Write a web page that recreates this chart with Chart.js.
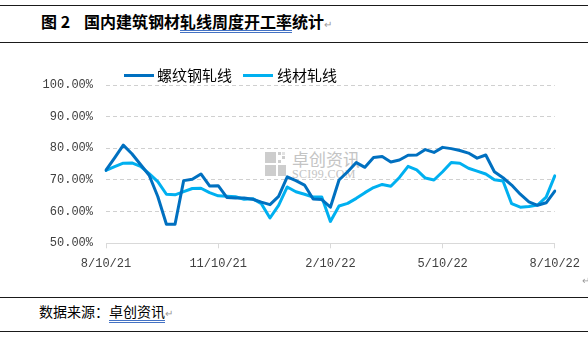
<!DOCTYPE html>
<html>
<head>
<meta charset="utf-8">
<script src="https://cdn.jsdelivr.net/npm/chart.js@4.4.1/dist/chart.umd.min.js"></script>
<style>
  html, body { margin: 0; padding: 0; background: #fff; }
  body { width: 588px; height: 337px; position: relative; overflow: hidden; font-family: "Noto Sans CJK SC", sans-serif; }
  .rule { position: absolute; left: 0; width: 588px; height: 1px; background: #1a1a1a; }
  .title { position: absolute; left: 41px; top: 10px; font-size: 16px; font-weight: 700; color: #000; line-height: 22px; white-space: nowrap; }
  .title .num { display: inline-block; width: 43px; }
  .ul { border-bottom: 3px double #4472c4; line-height: 18px; display: inline-block; }
  .para { color: #9a9a9a; font-size: 10px; font-weight: 400; }
  .legend { position: absolute; top: 66px; font-size: 15px; color: #000; line-height: 18px; white-space: nowrap; }
  .legend i { position: absolute; top: 7.5px; height: 3px; width: 30px; }
  .legend span { position: absolute; top: 0; }
  .watermark { position: absolute; left: 265px; top: 152px; }
  .watermark b { position: absolute; background: #cdcdcd; }
  .watermark .wm-cn { position: absolute; left: 27px; top: -3px; font-size: 17px; color: #c4c4c4; white-space: nowrap; line-height: 20px; }
  .watermark .wm-en { position: absolute; left: 27px; top: 15px; font-family: "Liberation Serif", serif; font-size: 12px; color: #c4c4c4; white-space: nowrap; letter-spacing: 0.3px; }
  #wrap { position: absolute; left: 0; top: 60px; width: 588px; height: 225px; }
  .footer { position: absolute; left: 39px; top: 301px; font-size: 14px; color: #000; line-height: 20px; white-space: nowrap; }
</style>
</head>
<body>
<div class="rule" style="top:5px"></div>
<div class="title"><span class="num">图 2</span>国内建筑钢材<span class="ul">轧线周度开工率</span>统计<span class="para">↵</span></div>
<div class="rule" style="top:42px"></div>

<div class="watermark">
  <b style="left:0;top:0;width:11px;height:11px"></b>
  <b style="left:13px;top:0;width:3px;height:3px"></b>
  <b style="left:17px;top:4px;width:3px;height:3px"></b>
  <b style="left:13px;top:8px;width:3px;height:3px"></b>
  <b style="left:17px;top:0;width:3px;height:3px;background:#e2e2e2"></b>
  <b style="left:0;top:13px;width:11px;height:11px"></b>
  <b style="left:13px;top:13px;width:8px;height:11px"></b>
  <span class="wm-cn">卓创资讯</span>
  <span class="wm-en">SCI99.COM</span>
</div>

<div id="wrap"><canvas id="rateChart"></canvas></div>

<div class="legend" style="left:124px"><i style="left:0;background:#0070c0"></i><span style="left:33px">螺纹钢轧线</span></div>
<div class="legend" style="left:243px"><i style="left:0;background:#00b0f0"></i><span style="left:34px">线材轧线</span></div>

<div class="para" style="position:absolute;left:582px;top:272px">↵</div>

<div class="rule" style="top:297px"></div>
<div class="footer">数据来源：<span class="ul" style="line-height:17px">卓创资讯</span><span class="para">↵</span></div>
<div class="rule" style="top:331px"></div>

<script>
// weekly sampling dates, Aug 2021 - Aug 2022
const weeks = [
  '8/10/21', '8/17/21', '8/24/21', '8/31/21', '9/7/21', '9/14/21', '9/21/21', '9/28/21',
  '10/5/21', '10/12/21', '10/19/21', '10/26/21', '11/2/21', '11/9/21', '11/16/21', '11/23/21',
  '11/30/21', '12/7/21', '12/14/21', '12/21/21', '12/28/21', '1/4/22', '1/11/22', '1/18/22',
  '1/25/22', '2/1/22', '2/8/22', '2/15/22', '2/22/22', '3/1/22', '3/8/22', '3/15/22',
  '3/22/22', '3/29/22', '4/5/22', '4/12/22', '4/19/22', '4/26/22', '5/3/22', '5/10/22',
  '5/17/22', '5/24/22', '5/31/22', '6/7/22', '6/14/22', '6/21/22', '6/28/22', '7/5/22',
  '7/12/22', '7/19/22', '7/26/22', '8/2/22', '8/9/22'
];

// 螺纹钢轧线 operating rate, %
const rebarRate = [
  73.1, 77.0, 81.0, 78.3, 74.9, 71.5, 64.8, 56.0, 56.0, 69.8,
  70.2, 71.9, 68.1, 68.2, 64.5, 64.3, 64.3, 63.9, 63.0, 62.2,
  64.8, 71.0, 69.8, 68.4, 64.0, 63.8, 61.4, 70.0, 72.6, 75.5,
  74.0, 77.1, 77.4, 75.7, 76.3, 77.8, 77.9, 79.6, 78.7, 80.3,
  79.9, 79.3, 78.5, 76.9, 77.9, 72.6, 70.7, 68.4, 65.5, 63.1,
  62.0, 62.8, 66.5
];

// 线材轧线 operating rate, %
const wireRate = [
  73.0, 74.2, 75.3, 75.4, 74.3, 72.0, 69.5, 65.5, 65.3, 66.3,
  67.3, 67.4, 66.0, 65.0, 64.9, 64.7, 63.9, 64.1, 62.5, 58.0,
  62.0, 67.8, 66.3, 65.5, 64.6, 64.6, 56.9, 61.8, 62.6, 64.2,
  66.0, 67.6, 68.6, 68.0, 70.8, 74.3, 73.2, 70.6, 70.0, 72.6,
  75.5, 75.3, 73.7, 72.8, 71.9, 70.1, 69.7, 62.5, 61.4, 61.6,
  62.1, 64.6, 71.3
];

// quarterly axis labels and the week they sit on
const tickLabels = ['8/10/21', '11/10/21', '2/10/22', '5/10/22', '8/10/22'];
const tickWeeks = [0, 13, 26, 39, 52];

const tickFont = { family: "'Liberation Mono', monospace", size: 12 };

new Chart(document.getElementById('rateChart'), {
  type: 'line',
  data: {
    labels: weeks,
    datasets: [
      { label: '螺纹钢轧线', data: rebarRate, borderColor: '#0070c0', borderWidth: 3 },
      { label: '线材轧线', data: wireRate, borderColor: '#00b0f0', borderWidth: 3 }
    ]
  },
  options: {
    responsive: true,
    maintainAspectRatio: false,
    animation: false,
    layout: { padding: { left: 0, right: 32, top: 25, bottom: 0 } },
    elements: {
      point: { radius: 0 },
      line: { tension: 0, borderJoinStyle: 'round', borderCapStyle: 'round' }
    },
    plugins: {
      legend: { display: false },
      tooltip: { enabled: false }
    },
    scales: {
      x: {
        ticks: {
          autoSkip: false,
          maxRotation: 0,
          padding: 8,
          color: '#404040',
          font: tickFont,
          callback: (v) => tickLabels[tickWeeks.indexOf(v)]
        },
        afterBuildTicks: (scale) => {
          scale.ticks = scale.ticks.filter(t => tickWeeks.includes(t.value));
        },
        afterFit: (scale) => { scale.height = 41.7; },
        grid: { drawOnChartArea: false, drawTicks: true, tickLength: 5, color: '#d9d9d9' },
        border: { display: true, color: '#d9d9d9', width: 1 }
      },
      y: {
        min: 50,
        max: 100,
        ticks: {
          stepSize: 10,
          padding: 13,
          color: '#404040',
          font: tickFont,
          callback: (v) => v.toFixed(2) + '%'
        },
        afterFit: (scale) => { scale.width = 106; },
        grid: {
          drawTicks: false,
          color: (ctx) => ctx.tick && ctx.tick.value === 50 ? 'rgba(0,0,0,0)' : '#d0d0d0'
        },
        border: { display: false, dash: [4, 3] }
      }
    }
  }
});
</script>
</body>
</html>
